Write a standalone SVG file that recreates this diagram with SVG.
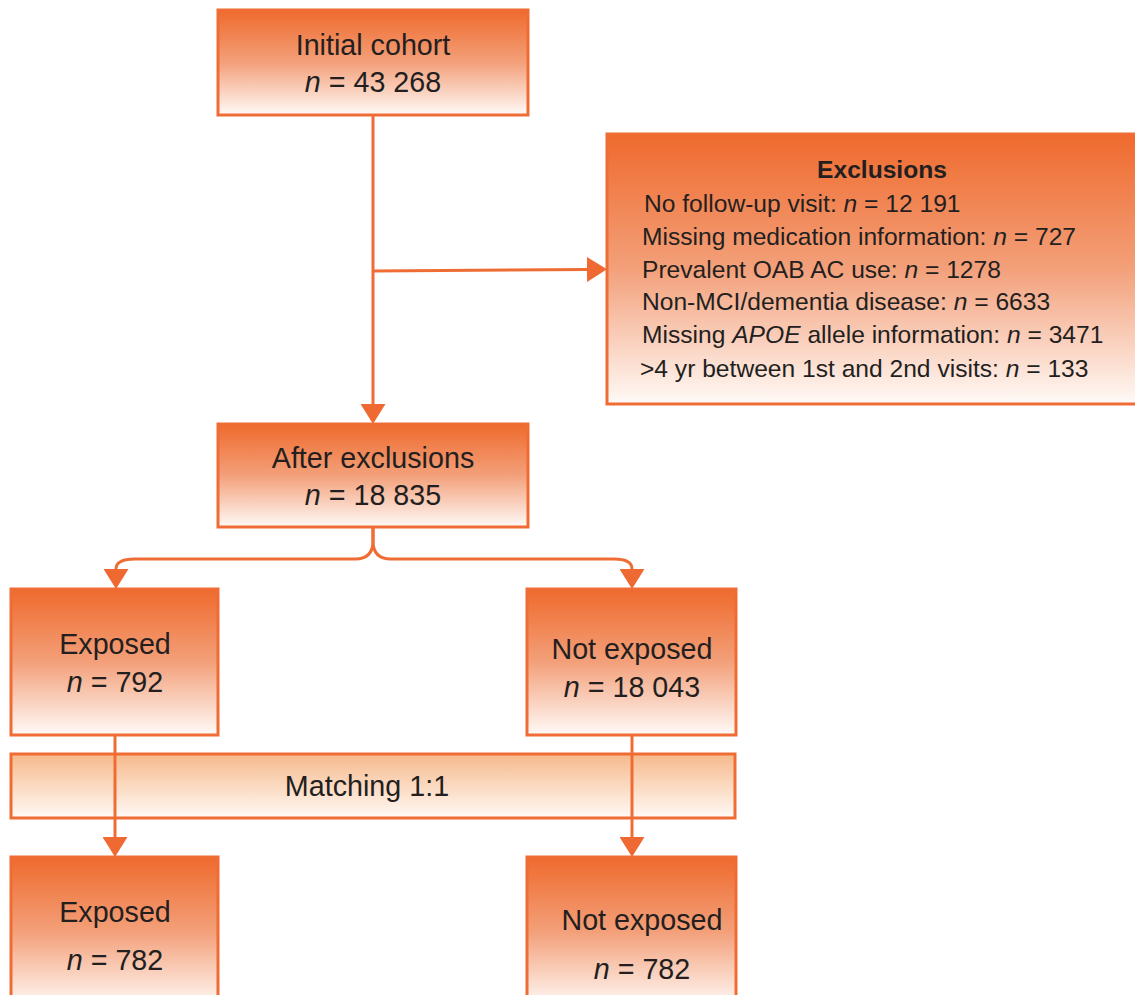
<svg xmlns="http://www.w3.org/2000/svg" width="1135" height="995" viewBox="0 0 1135 995">
<defs>
<linearGradient id="g" x1="0" y1="0" x2="0" y2="1">
<stop offset="0" stop-color="#ef6a2d"/>
<stop offset="0.5" stop-color="#f3a07a"/>
<stop offset="1" stop-color="#fffaf7"/>
</linearGradient>
<linearGradient id="gm" x1="0" y1="0" x2="0" y2="1">
<stop offset="0" stop-color="#f6b98b"/>
<stop offset="1" stop-color="#fffaf6"/>
</linearGradient>
<marker id="ah" markerUnits="userSpaceOnUse" markerWidth="21" markerHeight="25" refX="0" refY="12.5" orient="auto" viewBox="0 0 21 25">
<path d="M0,0 L20,12.5 L0,25 z" fill="#ef6a32"/>
</marker>
</defs>
<style>
.box{fill:url(#g);stroke:#ef6d35;stroke-width:3}
.mbox{fill:url(#gm);stroke:#ef6d35;stroke-width:3}
.t{font-family:"Liberation Sans",Arial,sans-serif;font-size:28.7px;fill:#231f20;text-anchor:middle}
.e{font-family:"Liberation Sans",Arial,sans-serif;font-size:24.6px;fill:#231f20}
.c{fill:none;stroke:#ef6d35;stroke-width:3;marker-end:url(#ah)}
.i{font-style:italic}
</style>
<rect width="1135" height="995" fill="#ffffff"/>
<g id="initial">
<rect class="box" x="218" y="10" width="310" height="105"/>
<text class="t" x="373" y="55">Initial cohort</text>
<text class="t" x="373" y="92"><tspan class="i">n</tspan> = 43 268</text>
</g>
<g id="exclusions">
<rect class="box" x="607" y="134" width="535" height="270"/>
<text class="e" x="882" y="178" text-anchor="middle" font-weight="bold">Exclusions</text>
<text class="e" x="644" y="212">No follow-up visit: <tspan class="i">n</tspan> = 12 191</text>
<text class="e" x="642" y="245">Missing medication information: <tspan class="i">n</tspan> = 727</text>
<text class="e" x="642" y="278">Prevalent OAB AC use: <tspan class="i">n</tspan> = 1278</text>
<text class="e" x="642" y="310">Non-MCI/dementia disease: <tspan class="i">n</tspan> = 6633</text>
<text class="e" x="642" y="343">Missing <tspan class="i">APOE</tspan> allele information: <tspan class="i">n</tspan> = 3471</text>
<text class="e" x="640" y="377">&gt;4 yr between 1st and 2nd visits: <tspan class="i">n</tspan> = 133</text>
</g>
<g id="after">
<rect class="box" x="218" y="424" width="310" height="103"/>
<text class="t" x="373" y="468">After exclusions</text>
<text class="t" x="373" y="505"><tspan class="i">n</tspan> = 18 835</text>
</g>
<g id="exposed">
<rect class="box" x="11" y="589" width="207" height="146"/>
<text class="t" x="115" y="654">Exposed</text>
<text class="t" x="115" y="692"><tspan class="i">n</tspan> = 792</text>
</g>
<g id="notexposed">
<rect class="box" x="527" y="589" width="209" height="146"/>
<text class="t" x="632" y="659">Not exposed</text>
<text class="t" x="632" y="697"><tspan class="i">n</tspan> = 18 043</text>
</g>
<g id="matching">
<rect class="mbox" x="11" y="754" width="724" height="64"/>
<text class="t" x="367" y="796">Matching 1:1</text>
</g>
<g id="exposed2">
<rect class="box" x="11" y="857" width="207" height="150"/>
<text class="t" x="115" y="922">Exposed</text>
<text class="t" x="115" y="970"><tspan class="i">n</tspan> = 782</text>
</g>
<g id="notexposed2">
<rect class="box" x="527" y="857" width="209" height="150"/>
<text class="t" x="642" y="930">Not exposed</text>
<text class="t" x="642" y="979"><tspan class="i">n</tspan> = 782</text>
</g>
<g id="connectors">
<path class="c" d="M373,115 V404"/>
<path class="c" d="M373,271 L587,269.5"/>
<path class="c" d="M373,527 V541 Q373,559 355,559 H135 Q116,559 116,569"/>
<path class="c" d="M373,527 V541 Q373,559 391,559 H614 Q632,559 632,569"/>
<path class="c" d="M115,735 V837"/>
<path class="c" d="M632,735 V837"/>
</g>
</svg>
